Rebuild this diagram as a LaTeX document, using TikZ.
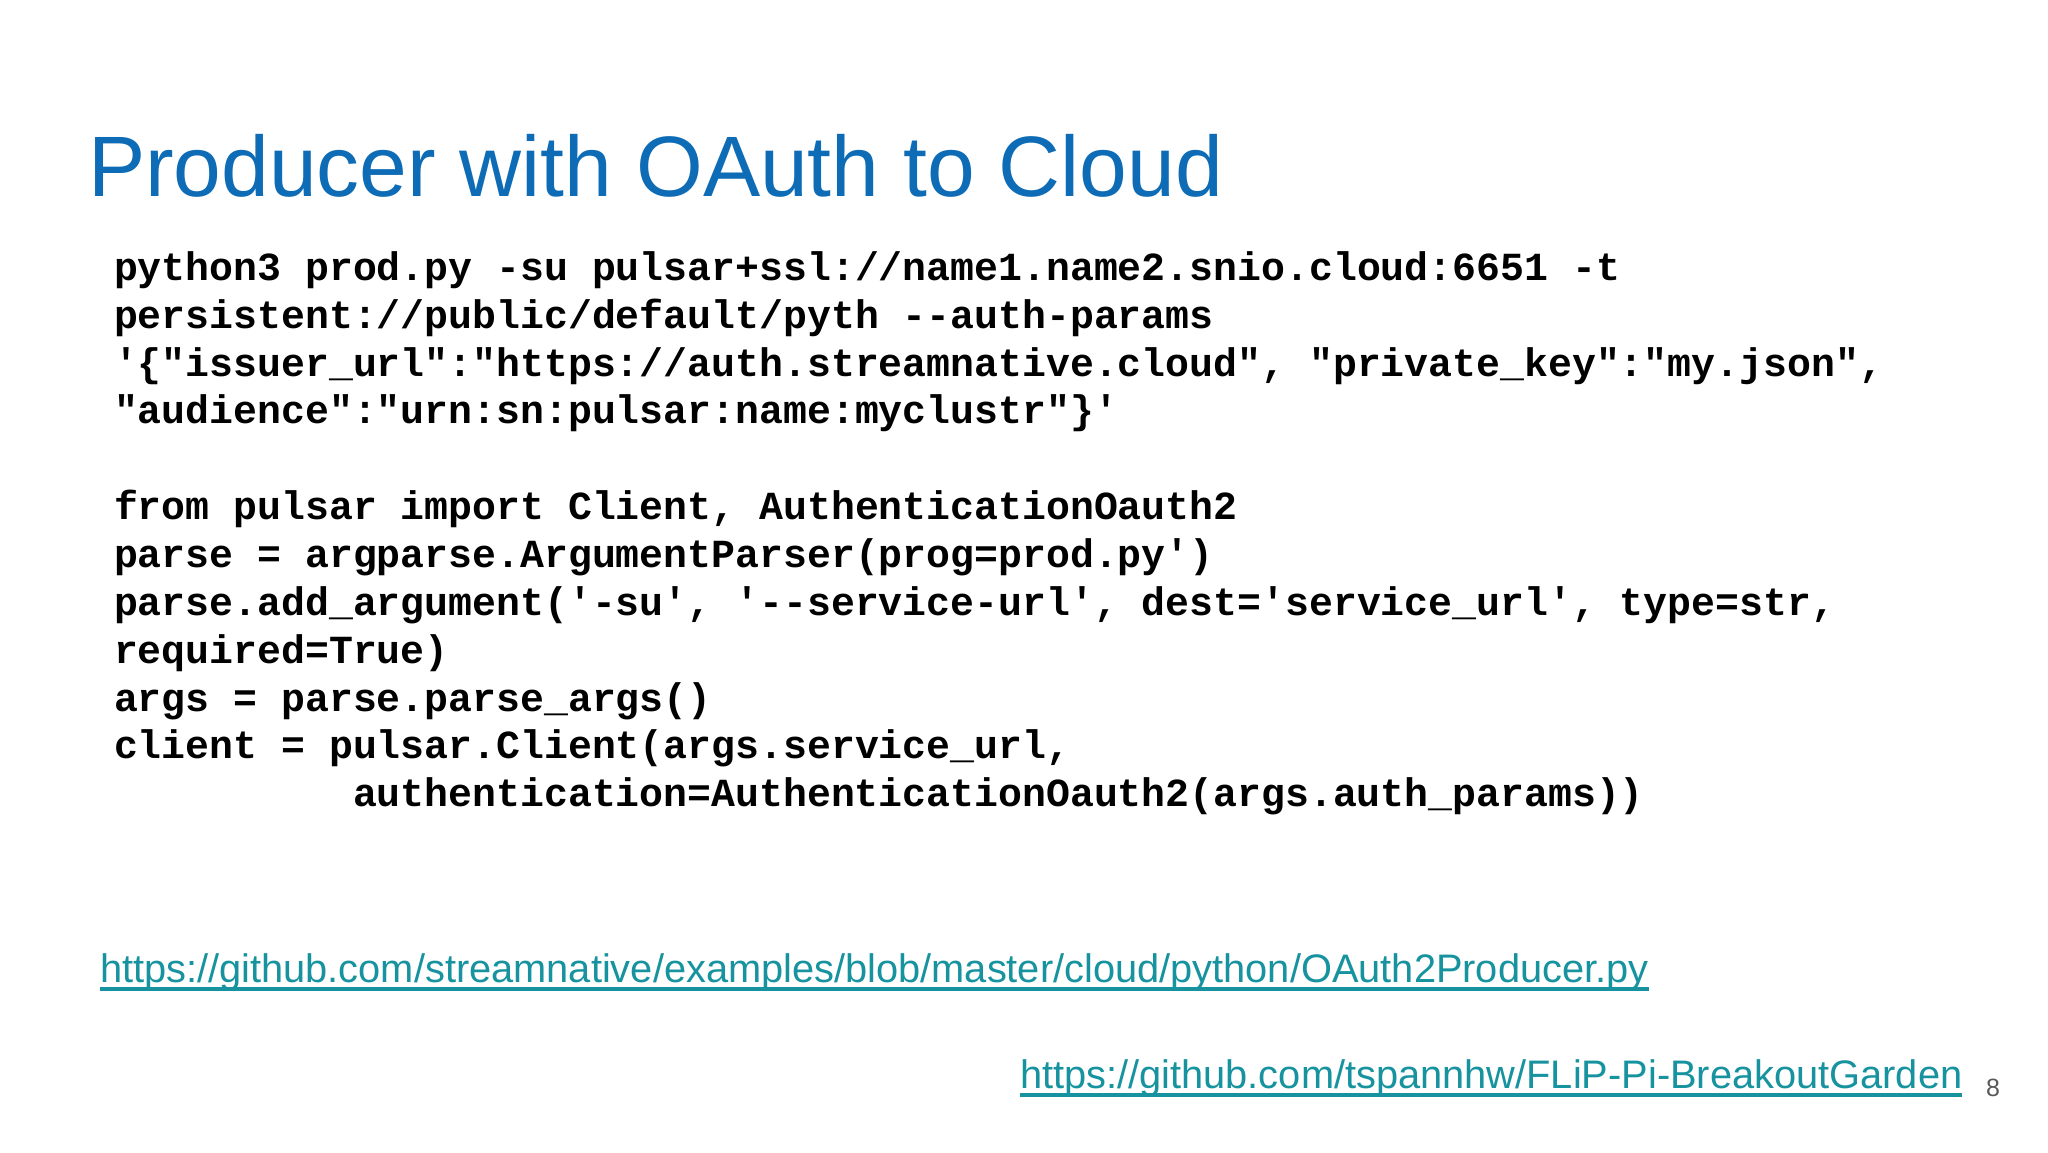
\documentclass[tikz,border=0pt]{standalone}
\usepackage{fontspec}
\setmainfont{Liberation Sans}
\setmonofont{Liberation Mono}
\definecolor{titleblue}{HTML}{0D6CB5}
\definecolor{linkteal}{HTML}{1793A0}
\definecolor{pagegray}{HTML}{595959}
\begin{document}
\begin{tikzpicture}[x=0.5pt,y=-0.5pt,
  every node/.style={inner sep=0pt,outer sep=0pt,anchor=base west},
  titletext/.style={text=titleblue,font=\fontsize{42.9pt}{50pt}\selectfont},
  codeline/.style={text=black,font=\ttfamily\bfseries\fontsize{19.92pt}{24pt}\selectfont},
  linktext/.style={text=linkteal,font=\fontsize{19.9pt}{24pt}\selectfont},
  linkrule/.style={draw=linkteal,line width=1.8pt},
  pagenum/.style={text=pagegray,font=\fontsize{12.5pt}{15pt}\selectfont}]
\useasboundingbox[fill=white] (0,0) rectangle (2048,1152);
\node[titletext] (title) at (88,196) {Producer with OAuth to Cloud};
\node[codeline] (c1) at (114,280) {python3 prod.py -su pulsar+ssl://name1.name2.snio.cloud:6651 -t};
\node[codeline] (c2) at (114,328) {persistent://public/default/pyth --auth-params};
\node[codeline] (c3) at (114,376) {'\{"issuer\_url":"https://auth.streamnative.cloud", "private\_key":"my.json",};
\node[codeline] (c4) at (114,423) {"audience":"urn:sn:pulsar:name:myclustr"\}'};
\node[codeline] (c5) at (114,519) {from pulsar import Client, AuthenticationOauth2};
\node[codeline] (c6) at (114,567) {parse = argparse.ArgumentParser(prog=prod.py')};
\node[codeline] (c7) at (114,615) {parse.add\_argument('-su', '--service-url', dest='service\_url', type=str,};
\node[codeline] (c8) at (114,663) {required=True)};
\node[codeline] (c9) at (114,711) {args = parse.parse\_args()};
\node[codeline] (c10) at (114,758) {client = pulsar.Client(args.service\_url,};
\node[codeline] (c11) at (353,806) {authentication=AuthenticationOauth2(args.auth\_params))};
\node[linktext] (l1) at (100,982) {https://github.com/streamnative/examples/blob/master/cloud/python/OAuth2Producer.py};
\draw[linkrule] ([yshift=-3.5pt]l1.base west) -- ([yshift=-3.5pt]l1.base east);
\node[linktext] (l2) at (1020,1088) {https://github.com/tspannhw/FLiP-Pi-BreakoutGarden};
\draw[linkrule] ([yshift=-3.5pt]l2.base west) -- ([yshift=-3.5pt]l2.base east);
\node[pagenum] (pg) at (1986,1096) {8};
\end{tikzpicture}
\end{document}
